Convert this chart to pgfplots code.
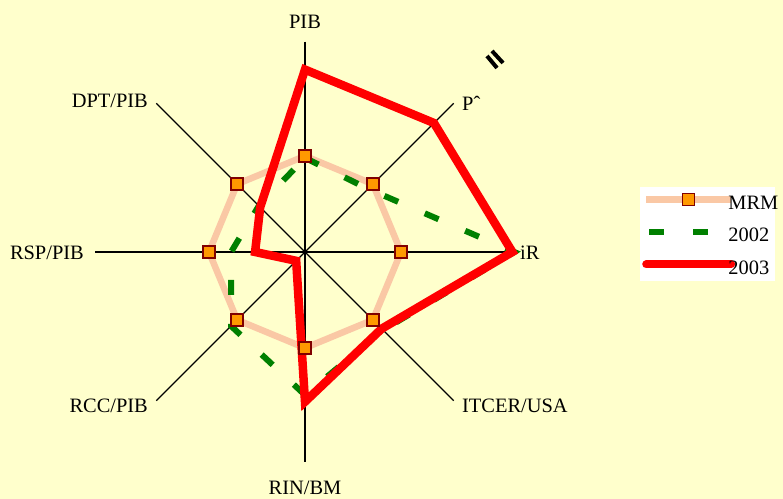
\documentclass[border=0pt]{standalone}
\usepackage{fontspec}
\setmainfont{Liberation Serif}
\usepackage{pgfplots}
\pgfplotsset{compat=1.18}
\definecolor{bgyel}{RGB}{255,255,204}
\definecolor{peach}{RGB}{250,200,165}
\definecolor{mrmorange}{RGB}{255,153,0}
\definecolor{mrmedge}{RGB}{128,0,0}
\definecolor{g2002}{RGB}{0,128,0}
\definecolor{r2003}{RGB}{255,0,0}

\begin{document}
\begin{tikzpicture}[lbl/.style={inner sep=0pt, text depth=0pt, font=\fontsize{20.5}{24}\selectfont}]
\begin{axis}[
    x=96bp, y=96bp,
    xmin=-3.1771, xmax=4.9792, ymin=-2.5729, ymax=2.625,
    axis line style={draw=none}, ticks=none,
    axis background/.style={fill=bgyel},
    clip=false,
    legend image code/.code={\draw[mark repeat=2,mark phase=2,#1] plot coordinates {(0bp,3.5bp)(42.5bp,3.5bp)(85bp,3.5bp)};},
    legend style={at={(axis cs:3.4896,0.677)}, anchor=north west, draw=none, fill=white,
        inner xsep=2bp, inner ysep=6.5bp, row sep=18.5bp, column sep=0bp,
        font=\fontsize{20.5}{24}\selectfont,
        nodes={inner sep=0bp, text height=13.5bp, text depth=0bp}},
    legend cell align=left,
]
% spokes
\addplot[black, line width=1.3bp, data cs=polar, forget plot] coordinates {(90,2.19) (270,2.19)};
\addplot[black, line width=1.3bp, data cs=polar, forget plot] coordinates {(45,2.19) (225,2.19)};
\addplot[black, line width=1.3bp, data cs=polar, forget plot] coordinates {(0,2.19) (180,2.19)};
\addplot[black, line width=1.3bp, data cs=polar, forget plot] coordinates {(135,2.19) (315,2.19)};

% MRM (line)
\addplot[peach, line width=6.5bp, line join=round, data cs=polar, forget plot] coordinates {
    (90,1) (45,1) (0,1) (315,1) (270,1) (225,1) (180,1) (135,1)
} -- cycle;
% 2002
\addplot[g2002, line width=6bp, dash pattern=on 15bp off 29bp, data cs=polar, forget plot] coordinates {
    (90,0.98) (45,0.93) (0,2.18) (315,1.15) (270,1.49) (225,1.09) (180,0.77) (135,0.68)
} -- cycle;
% 2003
\addplot[r2003, line width=8.5bp, line join=miter, data cs=polar, forget plot] coordinates {
    (90,1.90) (45,1.90) (0,2.16) (315,1.13) (270,1.56) (225,0.13) (180,0.52) (135,0.66)
} -- cycle;
% MRM (marks)
\addplot[only marks, mark=square*, mark size=6bp, mark options={fill=mrmorange, draw=mrmedge, line width=1.4bp}, data cs=polar, forget plot] coordinates {
    (90,1) (45,1) (0,1) (315,1) (270,1) (225,1) (180,1) (135,1)
};

\addlegendimage{peach, line width=6.5bp, mark=square*, mark size=6bp, mark options={fill=mrmorange, draw=mrmedge, line width=1.4bp}}
\addlegendentry{\makebox[38bp][l]{\hspace*{-6.8bp}MRM}}
\addlegendimage{g2002, line width=6bp, dash pattern=on 15bp off 29bp, dash phase=-3bp}
\addlegendentry{\makebox[38bp][l]{\hspace*{-6.8bp}2002}}
\addlegendimage{r2003, line width=8bp, line cap=round}
\addlegendentry{\makebox[38bp][l]{\hspace*{-6.8bp}2003}}

% axis names
\node[lbl, anchor=base] at (axis cs:0,2.323) {PIB};
\node[lbl, anchor=base west] at (axis cs:1.635,1.479) {Pˆ};
\node[lbl, anchor=base west] at (axis cs:2.24,-0.083) {iR};
\node[lbl, anchor=base west] at (axis cs:1.635,-1.677) {ITCER/USA};
\node[lbl, anchor=base] at (axis cs:0,-2.531) {RIN/BM};
\node[lbl, anchor=base east] at (axis cs:-1.635,-1.677) {RCC/PIB};
\node[lbl, anchor=base east] at (axis cs:-2.302,-0.083) {RSP/PIB};
\node[lbl, anchor=base east] at (axis cs:-1.635,1.5) {DPT/PIB};

% stray double stroke
\draw[black, line width=4bp] (axis cs:1.896,2.042) -- (axis cs:2.0,1.917);
\draw[black, line width=4bp] (axis cs:1.948,2.094) -- (axis cs:2.063,1.969);
\end{axis}
\pgfresetboundingbox
\useasboundingbox (current axis.south west) rectangle (current axis.north east);
\end{tikzpicture}
\end{document}
